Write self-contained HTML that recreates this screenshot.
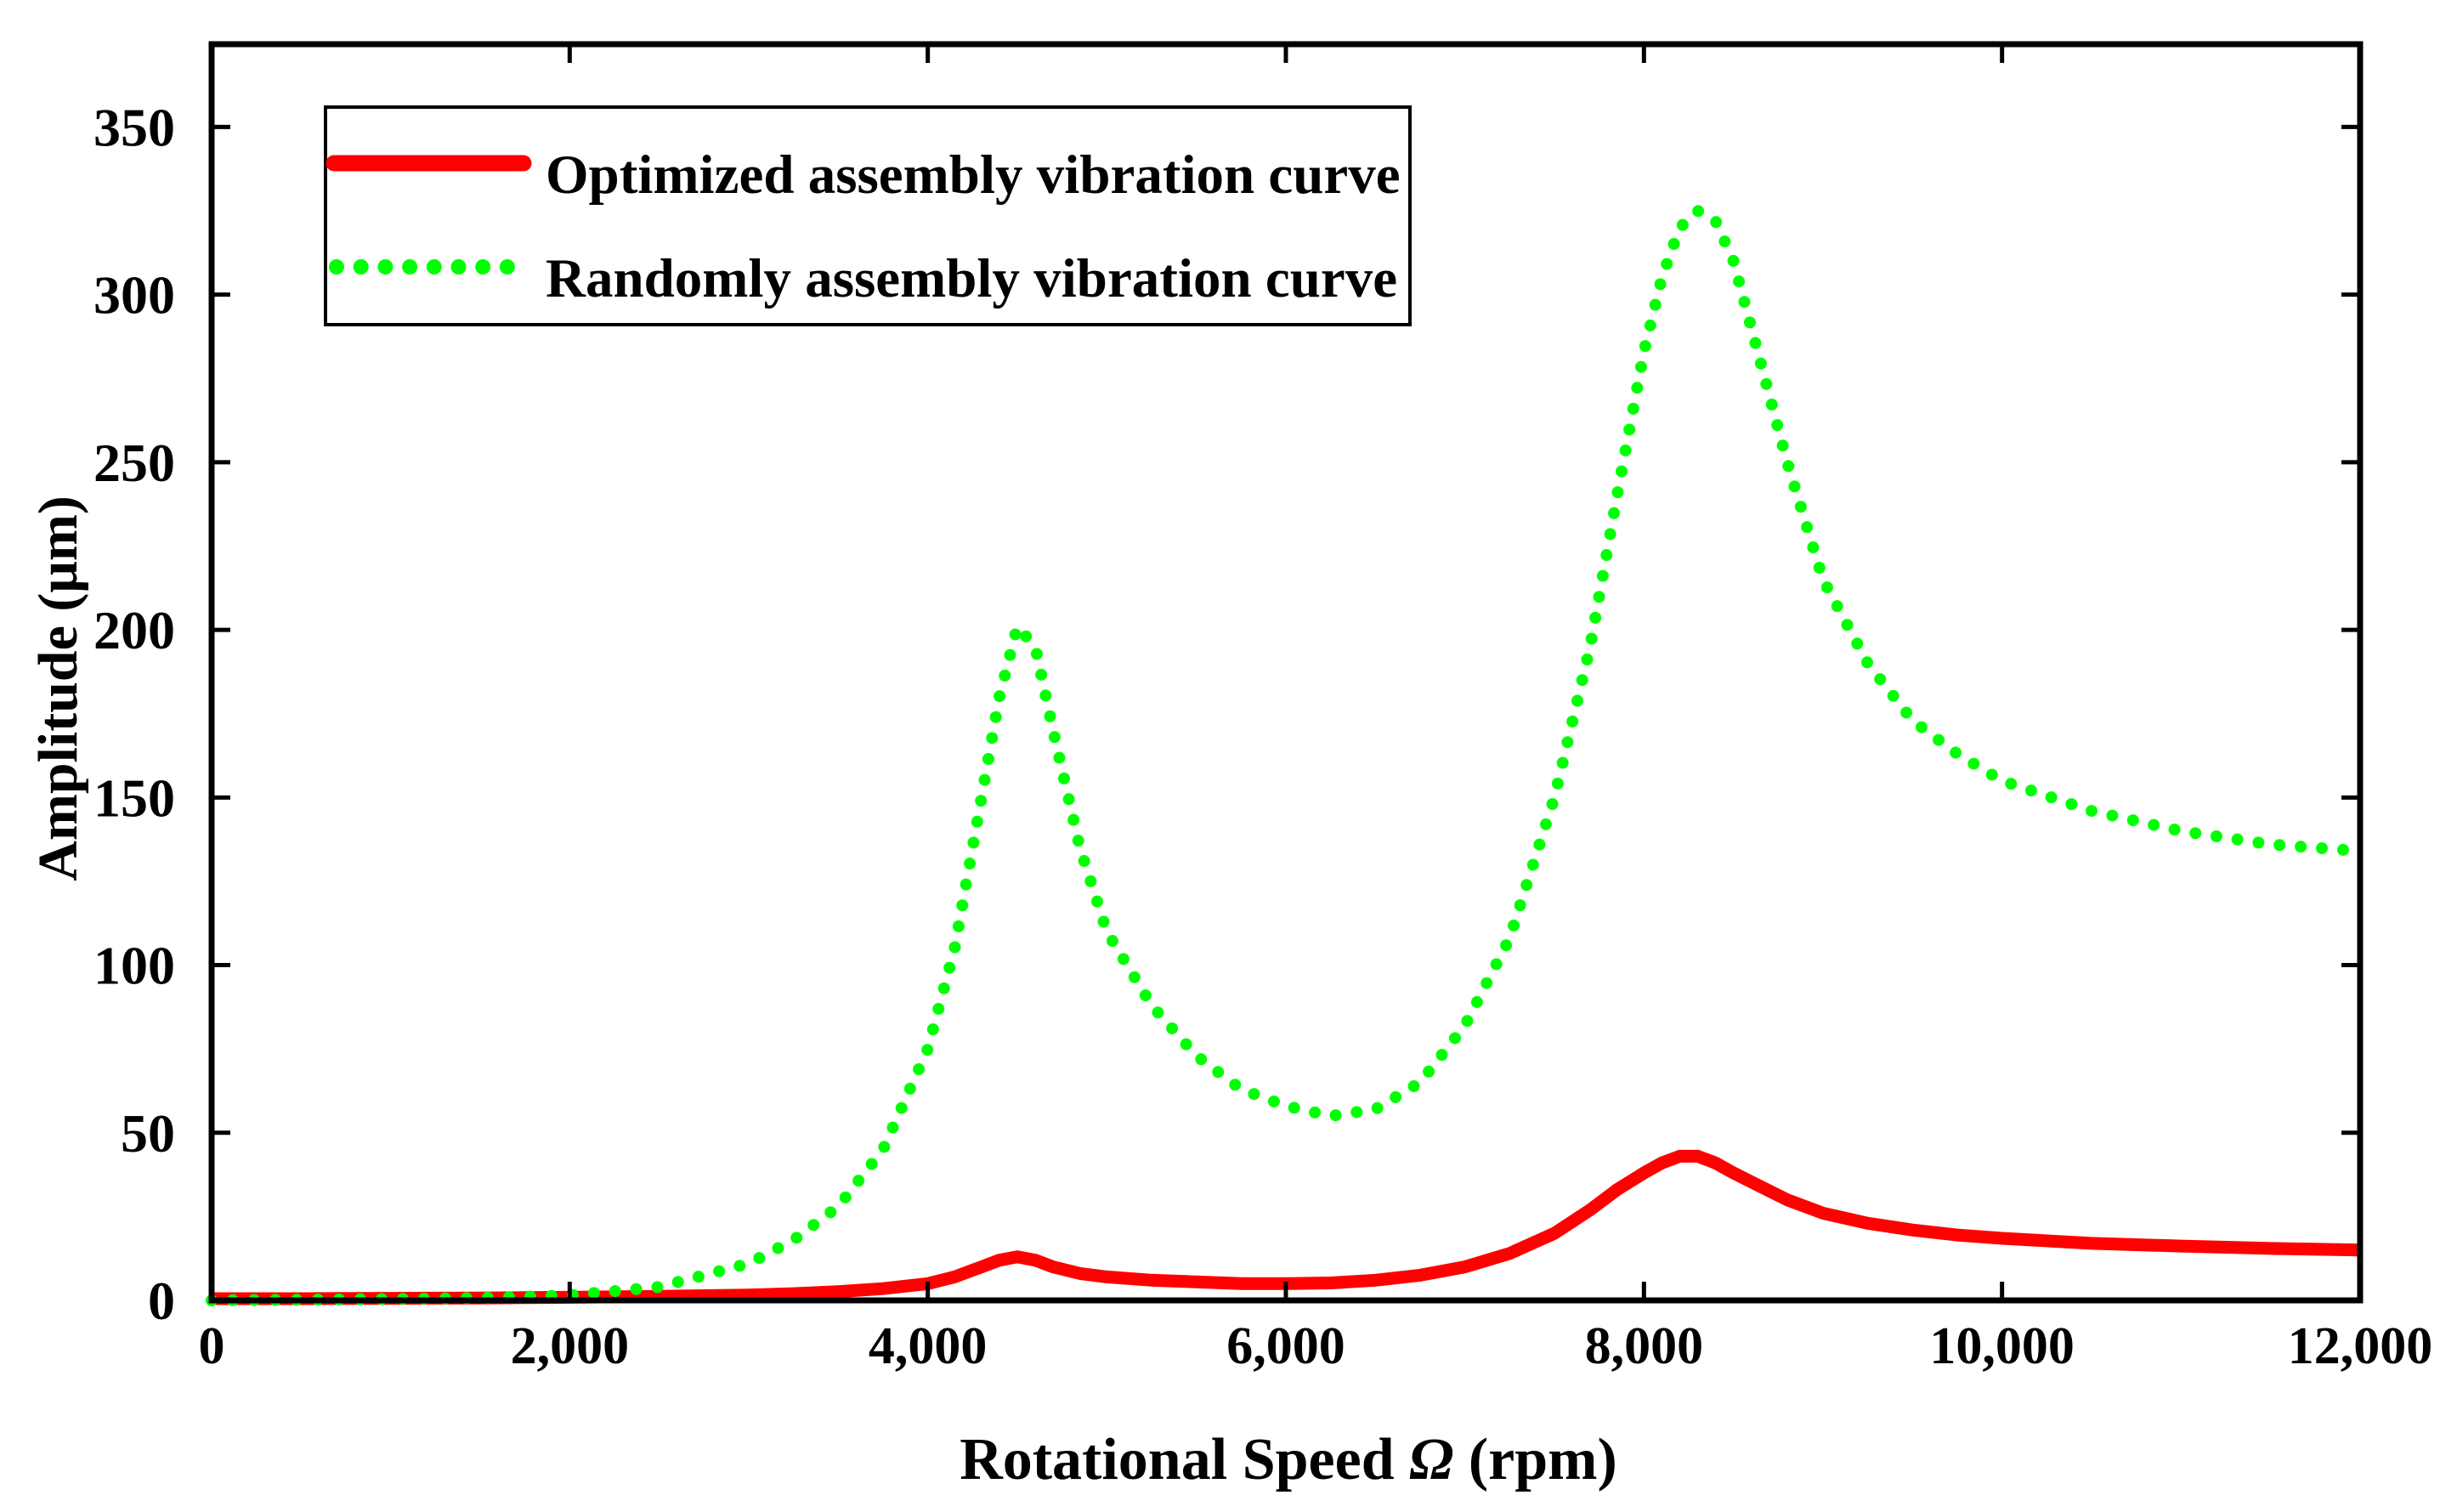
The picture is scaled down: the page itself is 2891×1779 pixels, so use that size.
<!DOCTYPE html>
<html><head><meta charset="utf-8"><style>
html,body{margin:0;padding:0;background:#fff}
svg{display:block}
text{font-family:"Liberation Serif",serif;font-weight:bold;fill:#000}
</style></head><body>
<svg id="chart" width="2891" height="1779" viewBox="0 0 2891 1779">
<g id="plot"></g>
</svg>
<script>
const xTicks=[0,2000,4000,6000,8000,10000,12000];
const xTickLabels=["0","2,000","4,000","6,000","8,000","10,000","12,000"];
const yTicks=[0,50,100,150,200,250,300,350];
const yTickLabels=["0","50","100","150","200","250","300","350"];
const speedX=[0,500,1000,1500,2000,2500,3000,3250,3500,3750,4000,4150,4300,4400,4500,4600,4700,4850,5000,5250,5500,5750,6000,6250,6500,6750,7000,7250,7500,7700,7850,8000,8100,8200,8300,8400,8500,8650,8800,9000,9250,9500,9750,10000,10500,11000,11500,12000];
const optimizedY=[0.5,0.5,0.6,0.7,0.9,1.2,1.6,2,2.6,3.5,5,7,10,12,13,12,10,8,7,6,5.5,5,5,5.2,6,7.5,10,14,20,27,33,38,41,43,43,41,38,34,30,26,23,21,19.5,18.5,17,16.2,15.5,15];
const randomY=[0,0.2,0.4,0.7,1.5,4,11,18,28,45,75,105,150,180,201,195,170,135,110,88,73,63,58,55,57,65,82,108,150,195,240,283,305,320,325,322,310,280,250,215,190,173,163,155,146,140,136,134];

const NS="http://www.w3.org/2000/svg";
const L=249,R=2777,T=52,B=1530,YMAX=374.7;
const sx=v=>L+(v/12000)*(R-L);
const sy=v=>B-(v/YMAX)*(B-T);
const g=document.getElementById('plot');
function mk(tag,attrs,parent){const e=document.createElementNS(NS,tag);for(const k in attrs)e.setAttribute(k,attrs[k]);(parent||g).appendChild(e);return e;}

let d1=speedX.map((x,i)=>(i?'L':'M')+sx(x).toFixed(1)+','+sy(optimizedY[i]).toFixed(1)).join(' ');
const p1=mk('path',{d:d1,fill:'none',stroke:'#ff0000','stroke-width':15,'stroke-linejoin':'round'});


let d2=speedX.map((x,i)=>(i?'L':'M')+sx(x).toFixed(1)+','+sy(randomY[i]).toFixed(1)).join(' ');
const p2=mk('path',{d:d2,fill:'none',stroke:'#00ff00','stroke-width':14,'stroke-linecap':'round','stroke-dasharray':'0 25'});



const fr=mk('rect',{x:L,y:T,width:R-L,height:B-T,fill:'none',stroke:'#000','stroke-width':7});



xTicks.forEach((v,i)=>{
  const x=sx(v);
  mk('line',{x1:x,y1:B,x2:x,y2:B-22,stroke:'#000','stroke-width':5});
  mk('line',{x1:x,y1:T,x2:x,y2:T+22,stroke:'#000','stroke-width':5});
  const t=mk('text',{x:x,y:1604,'font-size':62,'text-anchor':'middle'});
  t.textContent=xTickLabels[i];
  
  
});
yTicks.forEach((v,i)=>{
  const y=sy(v);
  mk('line',{x1:L,y1:y,x2:L+22,y2:y,stroke:'#000','stroke-width':5});
  mk('line',{x1:R,y1:y,x2:R-22,y2:y,stroke:'#000','stroke-width':5});
  const t=mk('text',{x:206,y:y+22,'font-size':64,'text-anchor':'end'});
  t.textContent=yTickLabels[i];
  
  
});

const xt=mk('text',{x:1516,y:1740,'font-size':70,'text-anchor':'middle'});
xt.innerHTML='Rotational Speed <tspan font-style="italic">Ω</tspan> (rpm)';


const yt=mk('text',{x:0,y:0,'font-size':66,'text-anchor':'middle',transform:'translate(90,810) rotate(-90)'});
yt.textContent='Amplitude (μm)';



const lg=mk('g',{});


mk('rect',{x:383,y:126,width:1276,height:256,fill:'#fff',stroke:'#000','stroke-width':4},lg);
const l1=mk('line',{x1:393,y1:192,x2:616,y2:192,stroke:'#ff0000','stroke-width':19,'stroke-linecap':'round'},lg);


const lt1=mk('text',{x:642,y:227,'font-size':65},lg);
lt1.textContent='Optimized assembly vibration curve';


const l2=mk('line',{x1:396,y1:314,x2:602,y2:314,stroke:'#00ff00','stroke-width':18,'stroke-linecap':'round','stroke-dasharray':'0 28.7'},lg);


const lt2=mk('text',{x:642,y:349,'font-size':65},lg);
lt2.textContent='Randomly assembly vibration curve';


</script>
</body></html>
